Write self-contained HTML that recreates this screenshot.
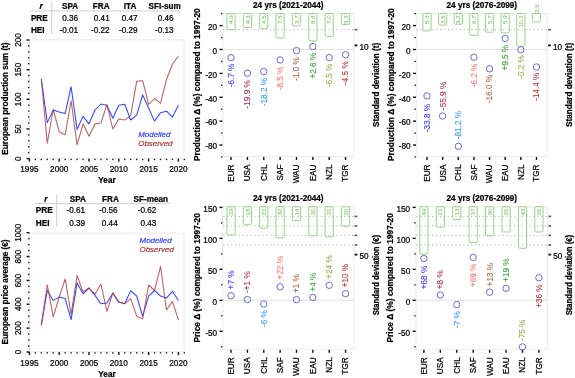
<!DOCTYPE html>
<html><head><meta charset="utf-8"><title>Figure</title>
<style>
html,body{margin:0;padding:0;background:#fff;}
body{width:575px;height:378px;overflow:hidden;}
svg{display:block;will-change:transform;}
text{font-family:"Liberation Sans", sans-serif;font-size:8.2px;}
</style></head>
<body>
<svg width="575" height="378" viewBox="0 0 575 378">
<rect x="0" y="0" width="575" height="378" fill="#fff"/>
<rect x="29.60" y="39.80" width="154.40" height="118.60" fill="none" stroke="#e8e8e8" stroke-width="0.9" />
<polyline points="41.32,79.00 47.28,122.60 53.24,110.00 59.20,111.90 65.16,113.60 71.12,86.70 77.08,129.40 83.04,116.30 89.00,123.80 94.96,110.00 100.92,104.00 106.88,105.20 112.84,118.30 118.80,105.20 124.76,104.30 130.72,120.00 136.68,115.20 142.64,94.90 148.60,108.00 154.56,121.10 160.52,112.70 166.48,111.20 172.44,117.10 178.40,105.20" fill="none" stroke="#3445ff" stroke-width="1.05" stroke-linejoin="round" />
<polyline points="41.32,79.00 47.28,143.10 53.24,109.50 59.20,131.80 65.16,134.80 71.12,100.70 77.08,144.90 83.04,123.80 89.00,136.20 94.96,124.00 100.92,123.10 106.88,104.60 112.84,129.00 118.80,118.90 124.76,120.10 130.72,115.40 136.68,81.30 142.64,80.70 148.60,104.40 154.56,98.50 160.52,103.20 166.48,79.50 172.44,64.20 178.40,56.30" fill="none" stroke="#a83a3a" stroke-width="1.05" stroke-linejoin="round" stroke-opacity="0.8"/>
<rect x="26.50" y="157.90" width="3.00" height="1.40" fill="#111" stroke="none" stroke-width="1" />
<rect x="26.50" y="128.25" width="3.00" height="1.40" fill="#111" stroke="none" stroke-width="1" />
<rect x="26.50" y="98.60" width="3.00" height="1.40" fill="#111" stroke="none" stroke-width="1" />
<rect x="26.50" y="68.95" width="3.00" height="1.40" fill="#111" stroke="none" stroke-width="1" />
<rect x="26.50" y="39.30" width="3.00" height="1.40" fill="#111" stroke="none" stroke-width="1" />
<rect x="28.05" y="151.99" width="1.35" height="1.35" fill="#111" stroke="none" stroke-width="1" />
<rect x="28.05" y="146.06" width="1.35" height="1.35" fill="#111" stroke="none" stroke-width="1" />
<rect x="28.05" y="140.13" width="1.35" height="1.35" fill="#111" stroke="none" stroke-width="1" />
<rect x="28.05" y="134.20" width="1.35" height="1.35" fill="#111" stroke="none" stroke-width="1" />
<rect x="28.05" y="122.34" width="1.35" height="1.35" fill="#111" stroke="none" stroke-width="1" />
<rect x="28.05" y="116.41" width="1.35" height="1.35" fill="#111" stroke="none" stroke-width="1" />
<rect x="28.05" y="110.48" width="1.35" height="1.35" fill="#111" stroke="none" stroke-width="1" />
<rect x="28.05" y="104.55" width="1.35" height="1.35" fill="#111" stroke="none" stroke-width="1" />
<rect x="28.05" y="92.69" width="1.35" height="1.35" fill="#111" stroke="none" stroke-width="1" />
<rect x="28.05" y="86.76" width="1.35" height="1.35" fill="#111" stroke="none" stroke-width="1" />
<rect x="28.05" y="80.83" width="1.35" height="1.35" fill="#111" stroke="none" stroke-width="1" />
<rect x="28.05" y="74.90" width="1.35" height="1.35" fill="#111" stroke="none" stroke-width="1" />
<rect x="28.05" y="63.04" width="1.35" height="1.35" fill="#111" stroke="none" stroke-width="1" />
<rect x="28.05" y="57.11" width="1.35" height="1.35" fill="#111" stroke="none" stroke-width="1" />
<rect x="28.05" y="51.18" width="1.35" height="1.35" fill="#111" stroke="none" stroke-width="1" />
<rect x="28.05" y="45.25" width="1.35" height="1.35" fill="#111" stroke="none" stroke-width="1" />
<text text-anchor="middle" stroke="#000" stroke-width="0.22" transform="translate(21.00,158.60) rotate(-90)" >0</text>
<text text-anchor="middle" stroke="#000" stroke-width="0.22" transform="translate(21.00,128.95) rotate(-90)" >50</text>
<text text-anchor="middle" stroke="#000" stroke-width="0.22" transform="translate(21.00,99.30) rotate(-90)" >100</text>
<text text-anchor="middle" stroke="#000" stroke-width="0.22" transform="translate(21.00,69.65) rotate(-90)" >150</text>
<text text-anchor="middle" stroke="#000" stroke-width="0.22" transform="translate(21.00,40.00) rotate(-90)" >200</text>
<rect x="28.70" y="158.60" width="1.40" height="3.00" fill="#111" stroke="none" stroke-width="1" />
<rect x="58.50" y="158.60" width="1.40" height="3.00" fill="#111" stroke="none" stroke-width="1" />
<rect x="88.30" y="158.60" width="1.40" height="3.00" fill="#111" stroke="none" stroke-width="1" />
<rect x="118.10" y="158.60" width="1.40" height="3.00" fill="#111" stroke="none" stroke-width="1" />
<rect x="147.90" y="158.60" width="1.40" height="3.00" fill="#111" stroke="none" stroke-width="1" />
<rect x="177.70" y="158.60" width="1.40" height="3.00" fill="#111" stroke="none" stroke-width="1" />
<rect x="34.68" y="158.80" width="1.35" height="1.35" fill="#111" stroke="none" stroke-width="1" />
<rect x="40.64" y="158.80" width="1.35" height="1.35" fill="#111" stroke="none" stroke-width="1" />
<rect x="46.60" y="158.80" width="1.35" height="1.35" fill="#111" stroke="none" stroke-width="1" />
<rect x="52.56" y="158.80" width="1.35" height="1.35" fill="#111" stroke="none" stroke-width="1" />
<rect x="64.48" y="158.80" width="1.35" height="1.35" fill="#111" stroke="none" stroke-width="1" />
<rect x="70.44" y="158.80" width="1.35" height="1.35" fill="#111" stroke="none" stroke-width="1" />
<rect x="76.40" y="158.80" width="1.35" height="1.35" fill="#111" stroke="none" stroke-width="1" />
<rect x="82.36" y="158.80" width="1.35" height="1.35" fill="#111" stroke="none" stroke-width="1" />
<rect x="94.28" y="158.80" width="1.35" height="1.35" fill="#111" stroke="none" stroke-width="1" />
<rect x="100.24" y="158.80" width="1.35" height="1.35" fill="#111" stroke="none" stroke-width="1" />
<rect x="106.20" y="158.80" width="1.35" height="1.35" fill="#111" stroke="none" stroke-width="1" />
<rect x="112.16" y="158.80" width="1.35" height="1.35" fill="#111" stroke="none" stroke-width="1" />
<rect x="124.08" y="158.80" width="1.35" height="1.35" fill="#111" stroke="none" stroke-width="1" />
<rect x="130.04" y="158.80" width="1.35" height="1.35" fill="#111" stroke="none" stroke-width="1" />
<rect x="136.00" y="158.80" width="1.35" height="1.35" fill="#111" stroke="none" stroke-width="1" />
<rect x="141.96" y="158.80" width="1.35" height="1.35" fill="#111" stroke="none" stroke-width="1" />
<rect x="153.88" y="158.80" width="1.35" height="1.35" fill="#111" stroke="none" stroke-width="1" />
<rect x="159.84" y="158.80" width="1.35" height="1.35" fill="#111" stroke="none" stroke-width="1" />
<rect x="165.80" y="158.80" width="1.35" height="1.35" fill="#111" stroke="none" stroke-width="1" />
<rect x="171.76" y="158.80" width="1.35" height="1.35" fill="#111" stroke="none" stroke-width="1" />
<rect x="183.68" y="158.80" width="1.35" height="1.35" fill="#111" stroke="none" stroke-width="1" />
<text x="29.40" y="172.40" text-anchor="middle" stroke="#000" stroke-width="0.22" >1995</text>
<text x="59.20" y="172.40" text-anchor="middle" stroke="#000" stroke-width="0.22" >2000</text>
<text x="89.00" y="172.40" text-anchor="middle" stroke="#000" stroke-width="0.22" >2005</text>
<text x="118.80" y="172.40" text-anchor="middle" stroke="#000" stroke-width="0.22" >2010</text>
<text x="148.60" y="172.40" text-anchor="middle" stroke="#000" stroke-width="0.22" >2015</text>
<text x="178.40" y="172.40" text-anchor="middle" stroke="#000" stroke-width="0.22" >2020</text>
<text x="107.00" y="183.20" font-weight="bold" text-anchor="middle" stroke="#000" stroke-width="0.22" >Year</text>
<text font-weight="bold" text-anchor="middle" stroke="#000" stroke-width="0.22" transform="translate(8.00,98.60) rotate(-90)" >European production sum (t)</text>
<text x="138.30" y="137.30" font-style="italic" style="font-size:7.9px" fill="#3445ff" stroke="#3445ff" stroke-width="0.22" >Modelled</text>
<text x="138.30" y="146.20" font-style="italic" style="font-size:7.9px" fill="#a83a3a" stroke="#a83a3a" stroke-width="0.22" >Observed</text>
<rect x="29.60" y="233.20" width="154.40" height="118.60" fill="none" stroke="#e8e8e8" stroke-width="0.9" />
<polyline points="41.32,325.20 47.28,290.50 53.24,300.40 59.20,297.10 65.16,298.60 71.12,319.60 77.08,282.90 83.04,293.80 89.00,288.00 94.96,295.40 100.92,303.70 106.88,303.10 112.84,293.00 118.80,302.10 124.76,303.70 130.72,290.60 136.68,296.00 142.64,316.30 148.60,296.10 154.56,290.50 160.52,296.10 166.48,298.10 172.44,291.30 178.40,300.50" fill="none" stroke="#3445ff" stroke-width="1.05" stroke-linejoin="round" />
<polyline points="41.32,325.20 47.28,284.90 53.24,316.90 59.20,297.00 65.16,278.90 71.12,314.30 77.08,275.40 83.04,292.00 89.00,288.00 94.96,294.20 100.92,284.00 106.88,311.40 112.84,293.00 118.80,302.10 124.76,303.70 130.72,298.60 136.68,316.20 142.64,318.90 148.60,285.00 154.56,290.50 160.52,266.30 166.48,310.00 172.44,301.40 178.40,319.80" fill="none" stroke="#a83a3a" stroke-width="1.05" stroke-linejoin="round" stroke-opacity="0.8"/>
<rect x="26.50" y="351.30" width="3.00" height="1.40" fill="#111" stroke="none" stroke-width="1" />
<rect x="26.50" y="327.44" width="3.00" height="1.40" fill="#111" stroke="none" stroke-width="1" />
<rect x="26.50" y="303.58" width="3.00" height="1.40" fill="#111" stroke="none" stroke-width="1" />
<rect x="26.50" y="279.72" width="3.00" height="1.40" fill="#111" stroke="none" stroke-width="1" />
<rect x="26.50" y="255.86" width="3.00" height="1.40" fill="#111" stroke="none" stroke-width="1" />
<rect x="26.50" y="232.00" width="3.00" height="1.40" fill="#111" stroke="none" stroke-width="1" />
<rect x="28.05" y="345.36" width="1.35" height="1.35" fill="#111" stroke="none" stroke-width="1" />
<rect x="28.05" y="339.39" width="1.35" height="1.35" fill="#111" stroke="none" stroke-width="1" />
<rect x="28.05" y="333.43" width="1.35" height="1.35" fill="#111" stroke="none" stroke-width="1" />
<rect x="28.05" y="321.50" width="1.35" height="1.35" fill="#111" stroke="none" stroke-width="1" />
<rect x="28.05" y="315.53" width="1.35" height="1.35" fill="#111" stroke="none" stroke-width="1" />
<rect x="28.05" y="309.56" width="1.35" height="1.35" fill="#111" stroke="none" stroke-width="1" />
<rect x="28.05" y="297.63" width="1.35" height="1.35" fill="#111" stroke="none" stroke-width="1" />
<rect x="28.05" y="291.67" width="1.35" height="1.35" fill="#111" stroke="none" stroke-width="1" />
<rect x="28.05" y="285.70" width="1.35" height="1.35" fill="#111" stroke="none" stroke-width="1" />
<rect x="28.05" y="273.77" width="1.35" height="1.35" fill="#111" stroke="none" stroke-width="1" />
<rect x="28.05" y="267.81" width="1.35" height="1.35" fill="#111" stroke="none" stroke-width="1" />
<rect x="28.05" y="261.84" width="1.35" height="1.35" fill="#111" stroke="none" stroke-width="1" />
<rect x="28.05" y="249.91" width="1.35" height="1.35" fill="#111" stroke="none" stroke-width="1" />
<rect x="28.05" y="243.95" width="1.35" height="1.35" fill="#111" stroke="none" stroke-width="1" />
<rect x="28.05" y="237.98" width="1.35" height="1.35" fill="#111" stroke="none" stroke-width="1" />
<text text-anchor="middle" stroke="#000" stroke-width="0.22" transform="translate(21.00,352.00) rotate(-90)" >0</text>
<text text-anchor="middle" stroke="#000" stroke-width="0.22" transform="translate(21.00,328.14) rotate(-90)" >200</text>
<text text-anchor="middle" stroke="#000" stroke-width="0.22" transform="translate(21.00,304.28) rotate(-90)" >400</text>
<text text-anchor="middle" stroke="#000" stroke-width="0.22" transform="translate(21.00,280.42) rotate(-90)" >600</text>
<text text-anchor="middle" stroke="#000" stroke-width="0.22" transform="translate(21.00,256.56) rotate(-90)" >800</text>
<text text-anchor="middle" stroke="#000" stroke-width="0.22" transform="translate(21.00,232.70) rotate(-90)" >1000</text>
<rect x="28.70" y="352.00" width="1.40" height="3.00" fill="#111" stroke="none" stroke-width="1" />
<rect x="58.50" y="352.00" width="1.40" height="3.00" fill="#111" stroke="none" stroke-width="1" />
<rect x="88.30" y="352.00" width="1.40" height="3.00" fill="#111" stroke="none" stroke-width="1" />
<rect x="118.10" y="352.00" width="1.40" height="3.00" fill="#111" stroke="none" stroke-width="1" />
<rect x="147.90" y="352.00" width="1.40" height="3.00" fill="#111" stroke="none" stroke-width="1" />
<rect x="177.70" y="352.00" width="1.40" height="3.00" fill="#111" stroke="none" stroke-width="1" />
<rect x="34.68" y="352.20" width="1.35" height="1.35" fill="#111" stroke="none" stroke-width="1" />
<rect x="40.64" y="352.20" width="1.35" height="1.35" fill="#111" stroke="none" stroke-width="1" />
<rect x="46.60" y="352.20" width="1.35" height="1.35" fill="#111" stroke="none" stroke-width="1" />
<rect x="52.56" y="352.20" width="1.35" height="1.35" fill="#111" stroke="none" stroke-width="1" />
<rect x="64.48" y="352.20" width="1.35" height="1.35" fill="#111" stroke="none" stroke-width="1" />
<rect x="70.44" y="352.20" width="1.35" height="1.35" fill="#111" stroke="none" stroke-width="1" />
<rect x="76.40" y="352.20" width="1.35" height="1.35" fill="#111" stroke="none" stroke-width="1" />
<rect x="82.36" y="352.20" width="1.35" height="1.35" fill="#111" stroke="none" stroke-width="1" />
<rect x="94.28" y="352.20" width="1.35" height="1.35" fill="#111" stroke="none" stroke-width="1" />
<rect x="100.24" y="352.20" width="1.35" height="1.35" fill="#111" stroke="none" stroke-width="1" />
<rect x="106.20" y="352.20" width="1.35" height="1.35" fill="#111" stroke="none" stroke-width="1" />
<rect x="112.16" y="352.20" width="1.35" height="1.35" fill="#111" stroke="none" stroke-width="1" />
<rect x="124.08" y="352.20" width="1.35" height="1.35" fill="#111" stroke="none" stroke-width="1" />
<rect x="130.04" y="352.20" width="1.35" height="1.35" fill="#111" stroke="none" stroke-width="1" />
<rect x="136.00" y="352.20" width="1.35" height="1.35" fill="#111" stroke="none" stroke-width="1" />
<rect x="141.96" y="352.20" width="1.35" height="1.35" fill="#111" stroke="none" stroke-width="1" />
<rect x="153.88" y="352.20" width="1.35" height="1.35" fill="#111" stroke="none" stroke-width="1" />
<rect x="159.84" y="352.20" width="1.35" height="1.35" fill="#111" stroke="none" stroke-width="1" />
<rect x="165.80" y="352.20" width="1.35" height="1.35" fill="#111" stroke="none" stroke-width="1" />
<rect x="171.76" y="352.20" width="1.35" height="1.35" fill="#111" stroke="none" stroke-width="1" />
<rect x="183.68" y="352.20" width="1.35" height="1.35" fill="#111" stroke="none" stroke-width="1" />
<text x="29.40" y="365.80" text-anchor="middle" stroke="#000" stroke-width="0.22" >1995</text>
<text x="59.20" y="365.80" text-anchor="middle" stroke="#000" stroke-width="0.22" >2000</text>
<text x="89.00" y="365.80" text-anchor="middle" stroke="#000" stroke-width="0.22" >2005</text>
<text x="118.80" y="365.80" text-anchor="middle" stroke="#000" stroke-width="0.22" >2010</text>
<text x="148.60" y="365.80" text-anchor="middle" stroke="#000" stroke-width="0.22" >2015</text>
<text x="178.40" y="365.80" text-anchor="middle" stroke="#000" stroke-width="0.22" >2020</text>
<text x="107.00" y="376.60" font-weight="bold" text-anchor="middle" stroke="#000" stroke-width="0.22" >Year</text>
<text font-weight="bold" text-anchor="middle" stroke="#000" stroke-width="0.22" transform="translate(8.00,292.00) rotate(-90)" >European price average (€)</text>
<text x="139.60" y="242.70" font-style="italic" style="font-size:7.9px" fill="#3445ff" stroke="#3445ff" stroke-width="0.22" >Modelled</text>
<text x="139.60" y="251.60" font-style="italic" style="font-size:7.9px" fill="#a83a3a" stroke="#a83a3a" stroke-width="0.22" >Observed</text>
<text x="42.60" y="9.00" font-weight="bold" font-style="italic" text-anchor="end" stroke="#000" stroke-width="0.22" >r</text>
<text x="78.20" y="9.00" font-weight="bold" text-anchor="end" stroke="#000" stroke-width="0.22" >SPA</text>
<text x="109.60" y="9.00" font-weight="bold" text-anchor="end" stroke="#000" stroke-width="0.22" >FRA</text>
<text x="136.40" y="9.00" font-weight="bold" text-anchor="end" stroke="#000" stroke-width="0.22" >ITA</text>
<text x="180.80" y="9.00" font-weight="bold" text-anchor="end" stroke="#000" stroke-width="0.22" >SFI-sum</text>
<text x="30.90" y="20.60" font-weight="bold" stroke="#000" stroke-width="0.22" >PRE</text>
<text x="30.90" y="32.80" font-weight="bold" stroke="#000" stroke-width="0.22" >HEI</text>
<text x="78.10" y="20.60" text-anchor="end" stroke="#000" stroke-width="0.22" >0.36</text>
<text x="109.70" y="20.60" text-anchor="end" stroke="#000" stroke-width="0.22" >0.41</text>
<text x="137.60" y="20.60" text-anchor="end" stroke="#000" stroke-width="0.22" >0.47</text>
<text x="173.60" y="20.60" text-anchor="end" stroke="#000" stroke-width="0.22" >0.46</text>
<text x="78.10" y="32.80" text-anchor="end" stroke="#000" stroke-width="0.22" >-0.01</text>
<text x="109.70" y="32.80" text-anchor="end" stroke="#000" stroke-width="0.22" >-0.22</text>
<text x="137.60" y="32.80" text-anchor="end" stroke="#000" stroke-width="0.22" >-0.29</text>
<text x="173.60" y="32.80" text-anchor="end" stroke="#000" stroke-width="0.22" >-0.13</text>
<line x1="30.00" y1="10.90" x2="180.80" y2="10.90" stroke="#cfcfcf" stroke-width="1" />
<line x1="51.80" y1="1.50" x2="51.80" y2="34.00" stroke="#cfcfcf" stroke-width="1" />
<text x="47.50" y="201.70" font-weight="bold" font-style="italic" text-anchor="end" stroke="#000" stroke-width="0.22" >r</text>
<text x="86.00" y="201.70" font-weight="bold" text-anchor="end" stroke="#000" stroke-width="0.22" >SPA</text>
<text x="118.80" y="201.70" font-weight="bold" text-anchor="end" stroke="#000" stroke-width="0.22" >FRA</text>
<text x="168.10" y="201.70" font-weight="bold" text-anchor="end" stroke="#000" stroke-width="0.22" >SF-mean</text>
<text x="35.80" y="213.30" font-weight="bold" stroke="#000" stroke-width="0.22" >PRE</text>
<text x="35.80" y="225.50" font-weight="bold" stroke="#000" stroke-width="0.22" >HEI</text>
<text x="85.10" y="213.30" text-anchor="end" stroke="#000" stroke-width="0.22" >-0.61</text>
<text x="117.70" y="213.30" text-anchor="end" stroke="#000" stroke-width="0.22" >-0.56</text>
<text x="156.40" y="213.30" text-anchor="end" stroke="#000" stroke-width="0.22" >-0.62</text>
<text x="85.10" y="225.50" text-anchor="end" stroke="#000" stroke-width="0.22" >0.39</text>
<text x="117.70" y="225.50" text-anchor="end" stroke="#000" stroke-width="0.22" >0.44</text>
<text x="156.40" y="225.50" text-anchor="end" stroke="#000" stroke-width="0.22" >0.43</text>
<line x1="34.90" y1="203.60" x2="170.00" y2="203.60" stroke="#cfcfcf" stroke-width="1" />
<line x1="56.70" y1="194.20" x2="56.70" y2="226.70" stroke="#cfcfcf" stroke-width="1" />
<rect x="222.80" y="13.50" width="131.00" height="143.00" fill="none" stroke="#e8e8e8" stroke-width="0.9" />
<line x1="222.80" y1="49.50" x2="353.80" y2="49.50" stroke="#e2e2e2" stroke-width="1" />
<line x1="223.30" y1="29.70" x2="353.80" y2="29.70" stroke="#a8a8a8" stroke-width="1" stroke-dasharray="1.1,2.8"/>
<rect x="226.95" y="13.50" width="8.20" height="16.13" fill="none" stroke="#8fcb80" stroke-width="0.9" rx="1" ry="1"/>
<text style="font-size:6.2px" text-anchor="end" fill="#7fbf70" stroke="#7fbf70" stroke-width="0.05" transform="translate(233.15,15.40) rotate(-90)" >4.9</text>
<rect x="243.31" y="13.50" width="8.20" height="13.89" fill="none" stroke="#8fcb80" stroke-width="0.9" rx="1" ry="1"/>
<text style="font-size:6.2px" text-anchor="end" fill="#7fbf70" stroke="#7fbf70" stroke-width="0.05" transform="translate(249.51,15.40) rotate(-90)" >4.2</text>
<rect x="259.67" y="13.50" width="8.20" height="14.85" fill="none" stroke="#8fcb80" stroke-width="0.9" rx="1" ry="1"/>
<text style="font-size:6.2px" text-anchor="end" fill="#7fbf70" stroke="#7fbf70" stroke-width="0.05" transform="translate(265.87,15.40) rotate(-90)" >4.5</text>
<rect x="276.03" y="13.50" width="8.20" height="24.45" fill="none" stroke="#8fcb80" stroke-width="0.9" rx="1" ry="1"/>
<text style="font-size:6.2px" text-anchor="end" fill="#7fbf70" stroke="#7fbf70" stroke-width="0.05" transform="translate(282.23,15.40) rotate(-90)" >7.5</text>
<rect x="292.39" y="13.50" width="8.20" height="12.29" fill="none" stroke="#8fcb80" stroke-width="0.9" rx="1" ry="1"/>
<text style="font-size:6.2px" text-anchor="end" fill="#7fbf70" stroke="#7fbf70" stroke-width="0.05" transform="translate(298.59,15.40) rotate(-90)" >3.7</text>
<rect x="308.75" y="13.50" width="8.20" height="27.33" fill="none" stroke="#8fcb80" stroke-width="0.9" rx="1" ry="1"/>
<text style="font-size:6.2px" text-anchor="end" fill="#7fbf70" stroke="#7fbf70" stroke-width="0.05" transform="translate(314.95,15.40) rotate(-90)" >8.4</text>
<rect x="325.11" y="13.50" width="8.20" height="22.85" fill="none" stroke="#8fcb80" stroke-width="0.9" rx="1" ry="1"/>
<text style="font-size:6.2px" text-anchor="end" fill="#7fbf70" stroke="#7fbf70" stroke-width="0.05" transform="translate(331.31,15.40) rotate(-90)" >7.0</text>
<rect x="341.47" y="13.50" width="8.20" height="11.01" fill="none" stroke="#8fcb80" stroke-width="0.9" rx="1" ry="1"/>
<text style="font-size:6.2px" text-anchor="end" fill="#7fbf70" stroke="#7fbf70" stroke-width="0.05" transform="translate(347.67,15.40) rotate(-90)" >3.3</text>
<circle cx="231.05" cy="57.70" r="3.20" fill="none" stroke="#5b5bc0" stroke-width="0.9"/>
<circle cx="247.41" cy="73.20" r="3.20" fill="none" stroke="#5b5bc0" stroke-width="0.9"/>
<circle cx="263.77" cy="71.50" r="3.20" fill="none" stroke="#5b5bc0" stroke-width="0.9"/>
<circle cx="280.13" cy="59.90" r="3.20" fill="none" stroke="#5b5bc0" stroke-width="0.9"/>
<circle cx="296.49" cy="50.60" r="3.20" fill="none" stroke="#5b5bc0" stroke-width="0.9"/>
<circle cx="312.85" cy="46.60" r="3.20" fill="none" stroke="#5b5bc0" stroke-width="0.9"/>
<circle cx="329.21" cy="57.50" r="3.20" fill="none" stroke="#5b5bc0" stroke-width="0.9"/>
<circle cx="345.57" cy="54.80" r="3.20" fill="none" stroke="#5b5bc0" stroke-width="0.9"/>
<text text-anchor="end" fill="#3b3bff" stroke="#3b3bff" stroke-width="0.1" transform="translate(233.95,63.60) rotate(-90)" >-6.7 %</text>
<text text-anchor="end" fill="#a8385f" stroke="#a8385f" stroke-width="0.1" transform="translate(250.31,80.20) rotate(-90)" >-19.9 %</text>
<text text-anchor="end" fill="#3a9bff" stroke="#3a9bff" stroke-width="0.1" transform="translate(266.67,78.00) rotate(-90)" >-18.2 %</text>
<text text-anchor="end" fill="#ff7a7a" stroke="#ff7a7a" stroke-width="0.1" transform="translate(283.03,66.60) rotate(-90)" >-8.5 %</text>
<text text-anchor="end" fill="#a36a45" stroke="#a36a45" stroke-width="0.1" transform="translate(299.39,57.10) rotate(-90)" >-1.0 %</text>
<text text-anchor="end" fill="#3da23d" stroke="#3da23d" stroke-width="0.1" transform="translate(315.75,52.80) rotate(-90)" >+2.6 %</text>
<text text-anchor="end" fill="#aaa44a" stroke="#aaa44a" stroke-width="0.1" transform="translate(332.11,63.60) rotate(-90)" >-6.5 %</text>
<text text-anchor="end" fill="#b03a3a" stroke="#b03a3a" stroke-width="0.1" transform="translate(348.47,61.30) rotate(-90)" >-4.5 %</text>
<rect x="219.50" y="24.91" width="3.00" height="1.40" fill="#111" stroke="none" stroke-width="1" />
<rect x="219.50" y="48.80" width="3.00" height="1.40" fill="#111" stroke="none" stroke-width="1" />
<rect x="219.50" y="72.69" width="3.00" height="1.40" fill="#111" stroke="none" stroke-width="1" />
<rect x="219.50" y="96.58" width="3.00" height="1.40" fill="#111" stroke="none" stroke-width="1" />
<rect x="219.50" y="120.47" width="3.00" height="1.40" fill="#111" stroke="none" stroke-width="1" />
<rect x="219.50" y="144.36" width="3.00" height="1.40" fill="#111" stroke="none" stroke-width="1" />
<rect x="221.05" y="12.99" width="1.35" height="1.35" fill="#111" stroke="none" stroke-width="1" />
<rect x="221.05" y="36.88" width="1.35" height="1.35" fill="#111" stroke="none" stroke-width="1" />
<rect x="221.05" y="60.77" width="1.35" height="1.35" fill="#111" stroke="none" stroke-width="1" />
<rect x="221.05" y="84.65" width="1.35" height="1.35" fill="#111" stroke="none" stroke-width="1" />
<rect x="221.05" y="108.54" width="1.35" height="1.35" fill="#111" stroke="none" stroke-width="1" />
<rect x="221.05" y="132.44" width="1.35" height="1.35" fill="#111" stroke="none" stroke-width="1" />
<rect x="221.05" y="156.32" width="1.35" height="1.35" fill="#111" stroke="none" stroke-width="1" />
<text x="217.00" y="29.91" text-anchor="end" stroke="#000" stroke-width="0.22" >20</text>
<text x="217.00" y="53.80" text-anchor="end" stroke="#000" stroke-width="0.22" >0</text>
<text x="217.00" y="77.69" text-anchor="end" stroke="#000" stroke-width="0.22" >-20</text>
<text x="217.00" y="101.58" text-anchor="end" stroke="#000" stroke-width="0.22" >-40</text>
<text x="217.00" y="125.47" text-anchor="end" stroke="#000" stroke-width="0.22" >-60</text>
<text x="217.00" y="149.36" text-anchor="end" stroke="#000" stroke-width="0.22" >-80</text>
<rect x="230.35" y="157.00" width="1.40" height="3.00" fill="#111" stroke="none" stroke-width="1" />
<rect x="246.71" y="157.00" width="1.40" height="3.00" fill="#111" stroke="none" stroke-width="1" />
<rect x="263.07" y="157.00" width="1.40" height="3.00" fill="#111" stroke="none" stroke-width="1" />
<rect x="279.43" y="157.00" width="1.40" height="3.00" fill="#111" stroke="none" stroke-width="1" />
<rect x="295.79" y="157.00" width="1.40" height="3.00" fill="#111" stroke="none" stroke-width="1" />
<rect x="312.15" y="157.00" width="1.40" height="3.00" fill="#111" stroke="none" stroke-width="1" />
<rect x="328.51" y="157.00" width="1.40" height="3.00" fill="#111" stroke="none" stroke-width="1" />
<rect x="344.87" y="157.00" width="1.40" height="3.00" fill="#111" stroke="none" stroke-width="1" />
<text text-anchor="end" stroke="#000" stroke-width="0.22" transform="translate(233.95,164.50) rotate(-90)" >EUR</text>
<text text-anchor="end" stroke="#000" stroke-width="0.22" transform="translate(250.31,164.50) rotate(-90)" >USA</text>
<text text-anchor="end" stroke="#000" stroke-width="0.22" transform="translate(266.67,164.50) rotate(-90)" >CHL</text>
<text text-anchor="end" stroke="#000" stroke-width="0.22" transform="translate(283.03,164.50) rotate(-90)" >SAF</text>
<text text-anchor="end" stroke="#000" stroke-width="0.22" transform="translate(299.39,164.50) rotate(-90)" >WAU</text>
<text text-anchor="end" stroke="#000" stroke-width="0.22" transform="translate(315.75,164.50) rotate(-90)" >EAU</text>
<text text-anchor="end" stroke="#000" stroke-width="0.22" transform="translate(332.11,164.50) rotate(-90)" >NZL</text>
<text text-anchor="end" stroke="#000" stroke-width="0.22" transform="translate(348.47,164.50) rotate(-90)" >TGR</text>
<rect x="354.60" y="44.50" width="2.80" height="1.80" fill="#111" stroke="none" stroke-width="1" />
<text x="359.40" y="49.70" stroke="#000" stroke-width="0.22" >10</text>
<rect x="354.60" y="28.90" width="2.80" height="1.60" fill="#5a5a5a" stroke="none" stroke-width="1" />
<text x="288.30" y="8.00" font-weight="bold" text-anchor="middle" stroke="#000" stroke-width="0.22" >24 yrs (2021-2044)</text>
<text textLength="152.8" lengthAdjust="spacingAndGlyphs" font-weight="bold" style="font-size:8.3px" text-anchor="middle" stroke="#000" stroke-width="0.22" transform="translate(200.00,84.70) rotate(-90)" >Production Δ (%) compared to 1997-20</text>
<text font-weight="bold" text-anchor="end" stroke="#000" stroke-width="0.22" transform="translate(378.60,42.80) rotate(-90)" >Standard deviation (t)</text>
<rect x="416.30" y="13.50" width="131.00" height="143.00" fill="none" stroke="#e8e8e8" stroke-width="0.9" />
<line x1="416.30" y1="49.50" x2="547.30" y2="49.50" stroke="#e2e2e2" stroke-width="1" />
<line x1="416.80" y1="29.70" x2="547.30" y2="29.70" stroke="#a8a8a8" stroke-width="1" stroke-dasharray="1.1,2.8"/>
<rect x="422.90" y="13.50" width="8.20" height="17.41" fill="none" stroke="#8fcb80" stroke-width="0.9" rx="1" ry="1"/>
<text style="font-size:6.2px" text-anchor="end" fill="#7fbf70" stroke="#7fbf70" stroke-width="0.05" transform="translate(429.10,15.40) rotate(-90)" >5.3</text>
<rect x="438.54" y="13.50" width="8.20" height="11.65" fill="none" stroke="#8fcb80" stroke-width="0.9" rx="1" ry="1"/>
<text style="font-size:6.2px" text-anchor="end" fill="#7fbf70" stroke="#7fbf70" stroke-width="0.05" transform="translate(444.74,15.40) rotate(-90)" >3.5</text>
<rect x="454.18" y="13.50" width="8.20" height="10.69" fill="none" stroke="#8fcb80" stroke-width="0.9" rx="1" ry="1"/>
<text style="font-size:6.2px" text-anchor="end" fill="#7fbf70" stroke="#7fbf70" stroke-width="0.05" transform="translate(460.38,15.40) rotate(-90)" >3.2</text>
<rect x="469.82" y="13.50" width="8.20" height="21.89" fill="none" stroke="#8fcb80" stroke-width="0.9" rx="1" ry="1"/>
<text style="font-size:6.2px" text-anchor="end" fill="#7fbf70" stroke="#7fbf70" stroke-width="0.05" transform="translate(476.02,15.40) rotate(-90)" >6.7</text>
<rect x="485.46" y="13.50" width="8.20" height="18.69" fill="none" stroke="#8fcb80" stroke-width="0.9" rx="1" ry="1"/>
<text style="font-size:6.2px" text-anchor="end" fill="#7fbf70" stroke="#7fbf70" stroke-width="0.05" transform="translate(491.66,15.40) rotate(-90)" >5.7</text>
<rect x="501.10" y="13.50" width="8.20" height="19.33" fill="none" stroke="#8fcb80" stroke-width="0.9" rx="1" ry="1"/>
<text style="font-size:6.2px" text-anchor="end" fill="#7fbf70" stroke="#7fbf70" stroke-width="0.05" transform="translate(507.30,15.40) rotate(-90)" >5.9</text>
<rect x="516.74" y="13.50" width="8.20" height="32.77" fill="none" stroke="#8fcb80" stroke-width="0.9" rx="1" ry="1"/>
<text style="font-size:6.2px" text-anchor="end" fill="#7fbf70" stroke="#7fbf70" stroke-width="0.05" transform="translate(522.94,15.40) rotate(-90)" >10.1</text>
<rect x="532.38" y="13.50" width="8.20" height="8.45" fill="none" stroke="#8fcb80" stroke-width="0.9" rx="1" ry="1"/>
<text style="font-size:6.2px" fill="#7fbf70" stroke="#7fbf70" stroke-width="0.05" transform="translate(538.58,12.90) rotate(-90)" >2.5</text>
<circle cx="427.00" cy="95.90" r="3.20" fill="none" stroke="#5b5bc0" stroke-width="0.9"/>
<circle cx="442.64" cy="116.00" r="3.20" fill="none" stroke="#5b5bc0" stroke-width="0.9"/>
<circle cx="458.28" cy="146.30" r="3.20" fill="none" stroke="#5b5bc0" stroke-width="0.9"/>
<circle cx="473.92" cy="57.20" r="3.20" fill="none" stroke="#5b5bc0" stroke-width="0.9"/>
<circle cx="489.56" cy="68.80" r="3.20" fill="none" stroke="#5b5bc0" stroke-width="0.9"/>
<circle cx="505.20" cy="38.40" r="3.20" fill="none" stroke="#5b5bc0" stroke-width="0.9"/>
<circle cx="520.84" cy="49.80" r="3.20" fill="none" stroke="#5b5bc0" stroke-width="0.9"/>
<circle cx="536.48" cy="67.00" r="3.20" fill="none" stroke="#5b5bc0" stroke-width="0.9"/>
<text text-anchor="end" fill="#3b3bff" stroke="#3b3bff" stroke-width="0.1" transform="translate(429.90,103.90) rotate(-90)" >-33.8 %</text>
<text fill="#a8385f" stroke="#a8385f" stroke-width="0.1" transform="translate(445.54,110.00) rotate(-90)" >-55.9 %</text>
<text fill="#3a9bff" stroke="#3a9bff" stroke-width="0.1" transform="translate(461.18,139.20) rotate(-90)" >-81.2 %</text>
<text text-anchor="end" fill="#ff7a7a" stroke="#ff7a7a" stroke-width="0.1" transform="translate(476.82,63.60) rotate(-90)" >-6.2 %</text>
<text text-anchor="end" fill="#a36a45" stroke="#a36a45" stroke-width="0.1" transform="translate(492.46,74.90) rotate(-90)" >-16.0 %</text>
<text text-anchor="end" fill="#3da23d" stroke="#3da23d" stroke-width="0.1" transform="translate(508.10,44.90) rotate(-90)" >+9.5 %</text>
<text text-anchor="end" fill="#aaa44a" stroke="#aaa44a" stroke-width="0.1" transform="translate(523.74,55.20) rotate(-90)" >-0.2 %</text>
<text text-anchor="end" fill="#b03a3a" stroke="#b03a3a" stroke-width="0.1" transform="translate(539.38,72.60) rotate(-90)" >-14.4 %</text>
<rect x="413.00" y="24.91" width="3.00" height="1.40" fill="#111" stroke="none" stroke-width="1" />
<rect x="413.00" y="48.80" width="3.00" height="1.40" fill="#111" stroke="none" stroke-width="1" />
<rect x="413.00" y="72.69" width="3.00" height="1.40" fill="#111" stroke="none" stroke-width="1" />
<rect x="413.00" y="96.58" width="3.00" height="1.40" fill="#111" stroke="none" stroke-width="1" />
<rect x="413.00" y="120.47" width="3.00" height="1.40" fill="#111" stroke="none" stroke-width="1" />
<rect x="413.00" y="144.36" width="3.00" height="1.40" fill="#111" stroke="none" stroke-width="1" />
<rect x="414.55" y="12.99" width="1.35" height="1.35" fill="#111" stroke="none" stroke-width="1" />
<rect x="414.55" y="36.88" width="1.35" height="1.35" fill="#111" stroke="none" stroke-width="1" />
<rect x="414.55" y="60.77" width="1.35" height="1.35" fill="#111" stroke="none" stroke-width="1" />
<rect x="414.55" y="84.65" width="1.35" height="1.35" fill="#111" stroke="none" stroke-width="1" />
<rect x="414.55" y="108.54" width="1.35" height="1.35" fill="#111" stroke="none" stroke-width="1" />
<rect x="414.55" y="132.44" width="1.35" height="1.35" fill="#111" stroke="none" stroke-width="1" />
<rect x="414.55" y="156.32" width="1.35" height="1.35" fill="#111" stroke="none" stroke-width="1" />
<text x="410.50" y="29.91" text-anchor="end" stroke="#000" stroke-width="0.22" >20</text>
<text x="410.50" y="53.80" text-anchor="end" stroke="#000" stroke-width="0.22" >0</text>
<text x="410.50" y="77.69" text-anchor="end" stroke="#000" stroke-width="0.22" >-20</text>
<text x="410.50" y="101.58" text-anchor="end" stroke="#000" stroke-width="0.22" >-40</text>
<text x="410.50" y="125.47" text-anchor="end" stroke="#000" stroke-width="0.22" >-60</text>
<text x="410.50" y="149.36" text-anchor="end" stroke="#000" stroke-width="0.22" >-80</text>
<rect x="426.30" y="157.00" width="1.40" height="3.00" fill="#111" stroke="none" stroke-width="1" />
<rect x="441.94" y="157.00" width="1.40" height="3.00" fill="#111" stroke="none" stroke-width="1" />
<rect x="457.58" y="157.00" width="1.40" height="3.00" fill="#111" stroke="none" stroke-width="1" />
<rect x="473.22" y="157.00" width="1.40" height="3.00" fill="#111" stroke="none" stroke-width="1" />
<rect x="488.86" y="157.00" width="1.40" height="3.00" fill="#111" stroke="none" stroke-width="1" />
<rect x="504.50" y="157.00" width="1.40" height="3.00" fill="#111" stroke="none" stroke-width="1" />
<rect x="520.14" y="157.00" width="1.40" height="3.00" fill="#111" stroke="none" stroke-width="1" />
<rect x="535.78" y="157.00" width="1.40" height="3.00" fill="#111" stroke="none" stroke-width="1" />
<text text-anchor="end" stroke="#000" stroke-width="0.22" transform="translate(429.90,164.50) rotate(-90)" >EUR</text>
<text text-anchor="end" stroke="#000" stroke-width="0.22" transform="translate(445.54,164.50) rotate(-90)" >USA</text>
<text text-anchor="end" stroke="#000" stroke-width="0.22" transform="translate(461.18,164.50) rotate(-90)" >CHL</text>
<text text-anchor="end" stroke="#000" stroke-width="0.22" transform="translate(476.82,164.50) rotate(-90)" >SAF</text>
<text text-anchor="end" stroke="#000" stroke-width="0.22" transform="translate(492.46,164.50) rotate(-90)" >WAU</text>
<text text-anchor="end" stroke="#000" stroke-width="0.22" transform="translate(508.10,164.50) rotate(-90)" >EAU</text>
<text text-anchor="end" stroke="#000" stroke-width="0.22" transform="translate(523.74,164.50) rotate(-90)" >NZL</text>
<text text-anchor="end" stroke="#000" stroke-width="0.22" transform="translate(539.38,164.50) rotate(-90)" >TGR</text>
<rect x="548.10" y="44.50" width="2.80" height="1.80" fill="#111" stroke="none" stroke-width="1" />
<text x="552.90" y="49.70" stroke="#000" stroke-width="0.22" >10</text>
<rect x="548.10" y="28.90" width="2.80" height="1.60" fill="#5a5a5a" stroke="none" stroke-width="1" />
<text x="481.80" y="8.00" font-weight="bold" text-anchor="middle" stroke="#000" stroke-width="0.22" >24 yrs (2076-2099)</text>
<text textLength="152.8" lengthAdjust="spacingAndGlyphs" font-weight="bold" style="font-size:8.3px" text-anchor="middle" stroke="#000" stroke-width="0.22" transform="translate(393.50,84.70) rotate(-90)" >Production Δ (%) compared to 1997-20</text>
<text font-weight="bold" text-anchor="end" stroke="#000" stroke-width="0.22" transform="translate(572.10,42.80) rotate(-90)" >Standard deviation (t)</text>
<rect x="222.80" y="206.90" width="131.00" height="142.40" fill="none" stroke="#e8e8e8" stroke-width="0.9" />
<line x1="222.80" y1="300.30" x2="353.80" y2="300.30" stroke="#e2e2e2" stroke-width="1" />
<line x1="223.30" y1="216.40" x2="353.80" y2="216.40" stroke="#a8a8a8" stroke-width="1" stroke-dasharray="1.1,2.8"/>
<line x1="223.30" y1="225.90" x2="353.80" y2="225.90" stroke="#a8a8a8" stroke-width="1" stroke-dasharray="1.1,2.8"/>
<line x1="223.30" y1="235.40" x2="353.80" y2="235.40" stroke="#a8a8a8" stroke-width="1" stroke-dasharray="1.1,2.8"/>
<line x1="223.30" y1="245.00" x2="353.80" y2="245.00" stroke="#a8a8a8" stroke-width="1" stroke-dasharray="1.1,2.8"/>
<rect x="226.95" y="206.70" width="8.20" height="28.14" fill="none" stroke="#8fcb80" stroke-width="0.9" rx="1" ry="1"/>
<text style="font-size:6.2px" text-anchor="end" fill="#7fbf70" stroke="#7fbf70" stroke-width="0.05" transform="translate(233.15,208.60) rotate(-90)" >29</text>
<rect x="243.31" y="206.70" width="8.20" height="17.64" fill="none" stroke="#8fcb80" stroke-width="0.9" rx="1" ry="1"/>
<text style="font-size:6.2px" text-anchor="end" fill="#7fbf70" stroke="#7fbf70" stroke-width="0.05" transform="translate(249.51,208.60) rotate(-90)" >18</text>
<rect x="259.67" y="206.70" width="8.20" height="21.46" fill="none" stroke="#8fcb80" stroke-width="0.9" rx="1" ry="1"/>
<text style="font-size:6.2px" text-anchor="end" fill="#7fbf70" stroke="#7fbf70" stroke-width="0.05" transform="translate(265.87,208.60) rotate(-90)" >22</text>
<rect x="276.03" y="206.70" width="8.20" height="31.01" fill="none" stroke="#8fcb80" stroke-width="0.9" rx="1" ry="1"/>
<text style="font-size:6.2px" text-anchor="end" fill="#7fbf70" stroke="#7fbf70" stroke-width="0.05" transform="translate(282.23,208.60) rotate(-90)" >32</text>
<rect x="292.39" y="206.70" width="8.20" height="13.82" fill="none" stroke="#8fcb80" stroke-width="0.9" rx="1" ry="1"/>
<text style="font-size:6.2px" text-anchor="end" fill="#7fbf70" stroke="#7fbf70" stroke-width="0.05" transform="translate(298.59,208.60) rotate(-90)" >14</text>
<rect x="308.75" y="206.70" width="8.20" height="29.10" fill="none" stroke="#8fcb80" stroke-width="0.9" rx="1" ry="1"/>
<text style="font-size:6.2px" text-anchor="end" fill="#7fbf70" stroke="#7fbf70" stroke-width="0.05" transform="translate(314.95,208.60) rotate(-90)" >30</text>
<rect x="325.11" y="206.70" width="8.20" height="30.05" fill="none" stroke="#8fcb80" stroke-width="0.9" rx="1" ry="1"/>
<text style="font-size:6.2px" text-anchor="end" fill="#7fbf70" stroke="#7fbf70" stroke-width="0.05" transform="translate(331.31,208.60) rotate(-90)" >31</text>
<rect x="341.47" y="206.70" width="8.20" height="19.55" fill="none" stroke="#8fcb80" stroke-width="0.9" rx="1" ry="1"/>
<text style="font-size:6.2px" text-anchor="end" fill="#7fbf70" stroke="#7fbf70" stroke-width="0.05" transform="translate(347.67,208.60) rotate(-90)" >20</text>
<circle cx="231.05" cy="295.70" r="3.20" fill="none" stroke="#5b5bc0" stroke-width="0.9"/>
<circle cx="247.41" cy="299.60" r="3.20" fill="none" stroke="#5b5bc0" stroke-width="0.9"/>
<circle cx="263.77" cy="304.00" r="3.20" fill="none" stroke="#5b5bc0" stroke-width="0.9"/>
<circle cx="280.13" cy="286.80" r="3.20" fill="none" stroke="#5b5bc0" stroke-width="0.9"/>
<circle cx="296.49" cy="299.70" r="3.20" fill="none" stroke="#5b5bc0" stroke-width="0.9"/>
<circle cx="312.85" cy="297.50" r="3.20" fill="none" stroke="#5b5bc0" stroke-width="0.9"/>
<circle cx="329.21" cy="285.30" r="3.20" fill="none" stroke="#5b5bc0" stroke-width="0.9"/>
<circle cx="345.57" cy="293.70" r="3.20" fill="none" stroke="#5b5bc0" stroke-width="0.9"/>
<text fill="#3b3bff" stroke="#3b3bff" stroke-width="0.1" transform="translate(233.95,289.40) rotate(-90)" >+7 %</text>
<text fill="#a8385f" stroke="#a8385f" stroke-width="0.1" transform="translate(250.31,292.90) rotate(-90)" >-+1 %</text>
<text text-anchor="end" fill="#3a9bff" stroke="#3a9bff" stroke-width="0.1" transform="translate(266.67,310.10) rotate(-90)" >-6 %</text>
<text fill="#ff7a7a" stroke="#ff7a7a" stroke-width="0.1" transform="translate(283.03,279.40) rotate(-90)" >+22 %</text>
<text fill="#a36a45" stroke="#a36a45" stroke-width="0.1" transform="translate(299.39,293.10) rotate(-90)" >+1 %</text>
<text fill="#3da23d" stroke="#3da23d" stroke-width="0.1" transform="translate(315.75,291.60) rotate(-90)" >+4 %</text>
<text fill="#aaa44a" stroke="#aaa44a" stroke-width="0.1" transform="translate(332.11,278.70) rotate(-90)" >+24 %</text>
<text fill="#b03a3a" stroke="#b03a3a" stroke-width="0.1" transform="translate(348.47,287.30) rotate(-90)" >+10 %</text>
<rect x="219.50" y="206.68" width="3.00" height="1.40" fill="#111" stroke="none" stroke-width="1" />
<rect x="219.50" y="237.65" width="3.00" height="1.40" fill="#111" stroke="none" stroke-width="1" />
<rect x="219.50" y="268.62" width="3.00" height="1.40" fill="#111" stroke="none" stroke-width="1" />
<rect x="219.50" y="299.60" width="3.00" height="1.40" fill="#111" stroke="none" stroke-width="1" />
<rect x="219.50" y="330.58" width="3.00" height="1.40" fill="#111" stroke="none" stroke-width="1" />
<rect x="221.05" y="222.18" width="1.35" height="1.35" fill="#111" stroke="none" stroke-width="1" />
<rect x="221.05" y="253.16" width="1.35" height="1.35" fill="#111" stroke="none" stroke-width="1" />
<rect x="221.05" y="284.13" width="1.35" height="1.35" fill="#111" stroke="none" stroke-width="1" />
<rect x="221.05" y="315.11" width="1.35" height="1.35" fill="#111" stroke="none" stroke-width="1" />
<rect x="221.05" y="346.08" width="1.35" height="1.35" fill="#111" stroke="none" stroke-width="1" />
<text x="217.00" y="211.68" text-anchor="end" stroke="#000" stroke-width="0.22" >150</text>
<text x="217.00" y="242.65" text-anchor="end" stroke="#000" stroke-width="0.22" >100</text>
<text x="217.00" y="273.62" text-anchor="end" stroke="#000" stroke-width="0.22" >50</text>
<text x="217.00" y="304.60" text-anchor="end" stroke="#000" stroke-width="0.22" >0</text>
<text x="217.00" y="335.58" text-anchor="end" stroke="#000" stroke-width="0.22" >-50</text>
<rect x="230.35" y="349.80" width="1.40" height="3.00" fill="#111" stroke="none" stroke-width="1" />
<rect x="246.71" y="349.80" width="1.40" height="3.00" fill="#111" stroke="none" stroke-width="1" />
<rect x="263.07" y="349.80" width="1.40" height="3.00" fill="#111" stroke="none" stroke-width="1" />
<rect x="279.43" y="349.80" width="1.40" height="3.00" fill="#111" stroke="none" stroke-width="1" />
<rect x="295.79" y="349.80" width="1.40" height="3.00" fill="#111" stroke="none" stroke-width="1" />
<rect x="312.15" y="349.80" width="1.40" height="3.00" fill="#111" stroke="none" stroke-width="1" />
<rect x="328.51" y="349.80" width="1.40" height="3.00" fill="#111" stroke="none" stroke-width="1" />
<rect x="344.87" y="349.80" width="1.40" height="3.00" fill="#111" stroke="none" stroke-width="1" />
<text text-anchor="end" stroke="#000" stroke-width="0.22" transform="translate(233.95,357.30) rotate(-90)" >EUR</text>
<text text-anchor="end" stroke="#000" stroke-width="0.22" transform="translate(250.31,357.30) rotate(-90)" >USA</text>
<text text-anchor="end" stroke="#000" stroke-width="0.22" transform="translate(266.67,357.30) rotate(-90)" >CHL</text>
<text text-anchor="end" stroke="#000" stroke-width="0.22" transform="translate(283.03,357.30) rotate(-90)" >SAF</text>
<text text-anchor="end" stroke="#000" stroke-width="0.22" transform="translate(299.39,357.30) rotate(-90)" >WAU</text>
<text text-anchor="end" stroke="#000" stroke-width="0.22" transform="translate(315.75,357.30) rotate(-90)" >EAU</text>
<text text-anchor="end" stroke="#000" stroke-width="0.22" transform="translate(332.11,357.30) rotate(-90)" >NZL</text>
<text text-anchor="end" stroke="#000" stroke-width="0.22" transform="translate(348.47,357.30) rotate(-90)" >TGR</text>
<rect x="354.60" y="253.70" width="2.80" height="1.80" fill="#111" stroke="none" stroke-width="1" />
<text x="359.40" y="258.90" stroke="#000" stroke-width="0.22" >50</text>
<rect x="354.60" y="215.60" width="2.80" height="1.60" fill="#5a5a5a" stroke="none" stroke-width="1" />
<rect x="354.60" y="225.10" width="2.80" height="1.60" fill="#5a5a5a" stroke="none" stroke-width="1" />
<rect x="354.60" y="234.60" width="2.80" height="1.60" fill="#5a5a5a" stroke="none" stroke-width="1" />
<rect x="354.60" y="244.20" width="2.80" height="1.60" fill="#5a5a5a" stroke="none" stroke-width="1" />
<text x="288.30" y="201.40" font-weight="bold" text-anchor="middle" stroke="#000" stroke-width="0.22" >24 yrs (2021-2044)</text>
<text textLength="129.3" lengthAdjust="spacingAndGlyphs" font-weight="bold" style="font-size:8.3px" text-anchor="middle" stroke="#000" stroke-width="0.22" transform="translate(200.00,277.80) rotate(-90)" >Price Δ (%) compared to 1997-20</text>
<text textLength="80.3" lengthAdjust="spacingAndGlyphs" font-weight="bold" text-anchor="end" stroke="#000" stroke-width="0.22" transform="translate(378.60,235.00) rotate(-90)" >Standard deviation (€)</text>
<rect x="416.00" y="206.90" width="131.60" height="142.40" fill="none" stroke="#e8e8e8" stroke-width="0.9" />
<line x1="416.00" y1="300.30" x2="547.60" y2="300.30" stroke="#e2e2e2" stroke-width="1" />
<line x1="416.50" y1="216.40" x2="547.60" y2="216.40" stroke="#a8a8a8" stroke-width="1" stroke-dasharray="1.1,2.8"/>
<line x1="416.50" y1="225.90" x2="547.60" y2="225.90" stroke="#a8a8a8" stroke-width="1" stroke-dasharray="1.1,2.8"/>
<line x1="416.50" y1="235.40" x2="547.60" y2="235.40" stroke="#a8a8a8" stroke-width="1" stroke-dasharray="1.1,2.8"/>
<line x1="416.50" y1="245.00" x2="547.60" y2="245.00" stroke="#a8a8a8" stroke-width="1" stroke-dasharray="1.1,2.8"/>
<rect x="419.80" y="206.70" width="8.20" height="47.24" fill="none" stroke="#8fcb80" stroke-width="0.9" rx="1" ry="1"/>
<text style="font-size:6.2px" text-anchor="end" fill="#7fbf70" stroke="#7fbf70" stroke-width="0.05" transform="translate(426.00,208.60) rotate(-90)" >49</text>
<rect x="436.23" y="206.70" width="8.20" height="20.50" fill="none" stroke="#8fcb80" stroke-width="0.9" rx="1" ry="1"/>
<text style="font-size:6.2px" text-anchor="end" fill="#7fbf70" stroke="#7fbf70" stroke-width="0.05" transform="translate(442.43,208.60) rotate(-90)" >21</text>
<rect x="452.66" y="206.70" width="8.20" height="12.86" fill="none" stroke="#8fcb80" stroke-width="0.9" rx="1" ry="1"/>
<text style="font-size:6.2px" text-anchor="end" fill="#7fbf70" stroke="#7fbf70" stroke-width="0.05" transform="translate(458.86,208.60) rotate(-90)" >13</text>
<rect x="469.09" y="206.70" width="8.20" height="35.79" fill="none" stroke="#8fcb80" stroke-width="0.9" rx="1" ry="1"/>
<text style="font-size:6.2px" text-anchor="end" fill="#7fbf70" stroke="#7fbf70" stroke-width="0.05" transform="translate(475.29,208.60) rotate(-90)" >37</text>
<rect x="485.52" y="206.70" width="8.20" height="29.10" fill="none" stroke="#8fcb80" stroke-width="0.9" rx="1" ry="1"/>
<text style="font-size:6.2px" text-anchor="end" fill="#7fbf70" stroke="#7fbf70" stroke-width="0.05" transform="translate(491.72,208.60) rotate(-90)" >30</text>
<rect x="501.95" y="206.70" width="8.20" height="25.28" fill="none" stroke="#8fcb80" stroke-width="0.9" rx="1" ry="1"/>
<text style="font-size:6.2px" text-anchor="end" fill="#7fbf70" stroke="#7fbf70" stroke-width="0.05" transform="translate(508.15,208.60) rotate(-90)" >26</text>
<rect x="518.38" y="206.70" width="8.20" height="41.52" fill="none" stroke="#8fcb80" stroke-width="0.9" rx="1" ry="1"/>
<text style="font-size:6.2px" text-anchor="end" fill="#7fbf70" stroke="#7fbf70" stroke-width="0.05" transform="translate(524.58,208.60) rotate(-90)" >43</text>
<rect x="534.81" y="206.70" width="8.20" height="25.28" fill="none" stroke="#8fcb80" stroke-width="0.9" rx="1" ry="1"/>
<text style="font-size:6.2px" text-anchor="end" fill="#7fbf70" stroke="#7fbf70" stroke-width="0.05" transform="translate(541.01,208.60) rotate(-90)" >26</text>
<circle cx="423.90" cy="258.50" r="3.20" fill="none" stroke="#5b5bc0" stroke-width="0.9"/>
<circle cx="440.33" cy="295.00" r="3.20" fill="none" stroke="#5b5bc0" stroke-width="0.9"/>
<circle cx="456.76" cy="304.60" r="3.20" fill="none" stroke="#5b5bc0" stroke-width="0.9"/>
<circle cx="473.19" cy="257.40" r="3.20" fill="none" stroke="#5b5bc0" stroke-width="0.9"/>
<circle cx="489.62" cy="292.20" r="3.20" fill="none" stroke="#5b5bc0" stroke-width="0.9"/>
<circle cx="506.05" cy="288.30" r="3.20" fill="none" stroke="#5b5bc0" stroke-width="0.9"/>
<circle cx="522.48" cy="346.90" r="3.20" fill="none" stroke="#5b5bc0" stroke-width="0.9"/>
<circle cx="538.91" cy="277.80" r="3.20" fill="none" stroke="#5b5bc0" stroke-width="0.9"/>
<text text-anchor="end" fill="#3b3bff" stroke="#3b3bff" stroke-width="0.1" transform="translate(426.80,265.80) rotate(-90)" >+68 %</text>
<text fill="#a8385f" stroke="#a8385f" stroke-width="0.1" transform="translate(443.23,289.20) rotate(-90)" >+8 %</text>
<text text-anchor="end" fill="#3a9bff" stroke="#3a9bff" stroke-width="0.1" transform="translate(459.66,311.20) rotate(-90)" >-7 %</text>
<text text-anchor="end" fill="#ff7a7a" stroke="#ff7a7a" stroke-width="0.1" transform="translate(476.09,263.60) rotate(-90)" >+69 %</text>
<text fill="#a36a45" stroke="#a36a45" stroke-width="0.1" transform="translate(492.52,286.40) rotate(-90)" >+13 %</text>
<text fill="#3da23d" stroke="#3da23d" stroke-width="0.1" transform="translate(508.95,281.80) rotate(-90)" >+19 %</text>
<text fill="#aaa44a" stroke="#aaa44a" stroke-width="0.1" transform="translate(525.38,341.00) rotate(-90)" >-75 %</text>
<text text-anchor="end" fill="#b03a3a" stroke="#b03a3a" stroke-width="0.1" transform="translate(541.81,284.40) rotate(-90)" >+36 %</text>
<rect x="412.70" y="206.68" width="3.00" height="1.40" fill="#111" stroke="none" stroke-width="1" />
<rect x="412.70" y="237.65" width="3.00" height="1.40" fill="#111" stroke="none" stroke-width="1" />
<rect x="412.70" y="268.62" width="3.00" height="1.40" fill="#111" stroke="none" stroke-width="1" />
<rect x="412.70" y="299.60" width="3.00" height="1.40" fill="#111" stroke="none" stroke-width="1" />
<rect x="412.70" y="330.58" width="3.00" height="1.40" fill="#111" stroke="none" stroke-width="1" />
<rect x="414.25" y="222.18" width="1.35" height="1.35" fill="#111" stroke="none" stroke-width="1" />
<rect x="414.25" y="253.16" width="1.35" height="1.35" fill="#111" stroke="none" stroke-width="1" />
<rect x="414.25" y="284.13" width="1.35" height="1.35" fill="#111" stroke="none" stroke-width="1" />
<rect x="414.25" y="315.11" width="1.35" height="1.35" fill="#111" stroke="none" stroke-width="1" />
<rect x="414.25" y="346.08" width="1.35" height="1.35" fill="#111" stroke="none" stroke-width="1" />
<text x="410.20" y="211.68" text-anchor="end" stroke="#000" stroke-width="0.22" >150</text>
<text x="410.20" y="242.65" text-anchor="end" stroke="#000" stroke-width="0.22" >100</text>
<text x="410.20" y="273.62" text-anchor="end" stroke="#000" stroke-width="0.22" >50</text>
<text x="410.20" y="304.60" text-anchor="end" stroke="#000" stroke-width="0.22" >0</text>
<text x="410.20" y="335.58" text-anchor="end" stroke="#000" stroke-width="0.22" >-50</text>
<rect x="423.20" y="349.80" width="1.40" height="3.00" fill="#111" stroke="none" stroke-width="1" />
<rect x="439.63" y="349.80" width="1.40" height="3.00" fill="#111" stroke="none" stroke-width="1" />
<rect x="456.06" y="349.80" width="1.40" height="3.00" fill="#111" stroke="none" stroke-width="1" />
<rect x="472.49" y="349.80" width="1.40" height="3.00" fill="#111" stroke="none" stroke-width="1" />
<rect x="488.92" y="349.80" width="1.40" height="3.00" fill="#111" stroke="none" stroke-width="1" />
<rect x="505.35" y="349.80" width="1.40" height="3.00" fill="#111" stroke="none" stroke-width="1" />
<rect x="521.78" y="349.80" width="1.40" height="3.00" fill="#111" stroke="none" stroke-width="1" />
<rect x="538.21" y="349.80" width="1.40" height="3.00" fill="#111" stroke="none" stroke-width="1" />
<text text-anchor="end" stroke="#000" stroke-width="0.22" transform="translate(426.80,357.30) rotate(-90)" >EUR</text>
<text text-anchor="end" stroke="#000" stroke-width="0.22" transform="translate(443.23,357.30) rotate(-90)" >USA</text>
<text text-anchor="end" stroke="#000" stroke-width="0.22" transform="translate(459.66,357.30) rotate(-90)" >CHL</text>
<text text-anchor="end" stroke="#000" stroke-width="0.22" transform="translate(476.09,357.30) rotate(-90)" >SAF</text>
<text text-anchor="end" stroke="#000" stroke-width="0.22" transform="translate(492.52,357.30) rotate(-90)" >WAU</text>
<text text-anchor="end" stroke="#000" stroke-width="0.22" transform="translate(508.95,357.30) rotate(-90)" >EAU</text>
<text text-anchor="end" stroke="#000" stroke-width="0.22" transform="translate(525.38,357.30) rotate(-90)" >NZL</text>
<text text-anchor="end" stroke="#000" stroke-width="0.22" transform="translate(541.81,357.30) rotate(-90)" >TGR</text>
<rect x="548.40" y="253.70" width="2.80" height="1.80" fill="#111" stroke="none" stroke-width="1" />
<text x="553.20" y="258.90" stroke="#000" stroke-width="0.22" >50</text>
<rect x="548.40" y="215.60" width="2.80" height="1.60" fill="#5a5a5a" stroke="none" stroke-width="1" />
<rect x="548.40" y="225.10" width="2.80" height="1.60" fill="#5a5a5a" stroke="none" stroke-width="1" />
<rect x="548.40" y="234.60" width="2.80" height="1.60" fill="#5a5a5a" stroke="none" stroke-width="1" />
<rect x="548.40" y="244.20" width="2.80" height="1.60" fill="#5a5a5a" stroke="none" stroke-width="1" />
<text x="481.80" y="201.40" font-weight="bold" text-anchor="middle" stroke="#000" stroke-width="0.22" >24 yrs (2076-2099)</text>
<text textLength="129.3" lengthAdjust="spacingAndGlyphs" font-weight="bold" style="font-size:8.3px" text-anchor="middle" stroke="#000" stroke-width="0.22" transform="translate(393.20,277.80) rotate(-90)" >Price Δ (%) compared to 1997-20</text>
<text textLength="80.3" lengthAdjust="spacingAndGlyphs" font-weight="bold" text-anchor="end" stroke="#000" stroke-width="0.22" transform="translate(572.40,235.00) rotate(-90)" >Standard deviation (€)</text>
</svg>
</body></html>
